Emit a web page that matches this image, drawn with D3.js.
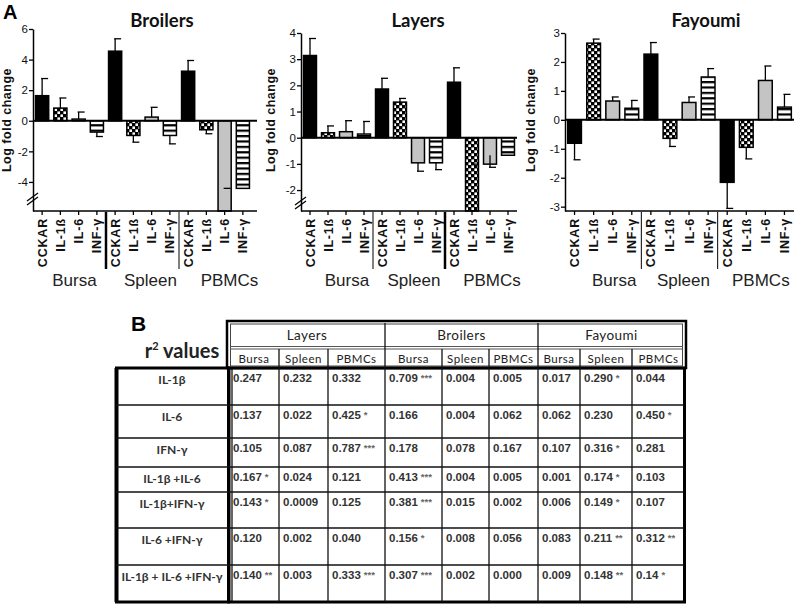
<!DOCTYPE html>
<html>
<head>
<meta charset="utf-8">
<script src="https://cdn.jsdelivr.net/npm/d3@7"></script>
<style>
body { margin: 0; background: #fff; }
svg { display: block; }
</style>
</head>
<body>
<svg id="fig" width="800" height="605"></svg>
<script>
// bar chart data (log fold change, mean and error)
var genes = ["CCKAR", "IL-1ß", "IL-6", "INF-γ"];
var tissues = ["Bursa", "Spleen", "PBMCs"];

var broilersMean = [1.64, 0.83, 0.11, -0.74, 4.55, -0.96, 0.24, -0.96, 3.24, -0.59, -5.9, -4.42];
var broilersErr  = [1.12, 0.66, 0.46, 0.29, 0.81, 0.44, 0.64, 0.55, 0.70, 0.26, 0, 0.61];
var layersMean   = [3.14, 0.19, 0.23, 0.14, 1.86, 1.36, -0.96, -0.96, 2.12, -2.8, -1.01, -0.67];
var layersErr    = [0.65, 0.26, 0.42, 0.48, 0.41, 0.14, 0.32, 0.26, 0.55, 0, 0.46, 1.32];
var fayoumiMean  = [-0.81, 2.65, 0.65, 0.40, 2.27, -0.64, 0.60, 1.48, -2.16, -0.95, 1.36, 0.44];
var fayoumiErr   = [0.57, 0.14, 0.14, 0.27, 0.40, 0.28, 0.19, 0.29, 0.90, 0.40, 0.50, 0.44];

var broilersTicks = [-4, -2, 0, 2, 4, 6];
var layersTicks   = [-2, -1, 0, 1, 2, 3, 4];
var fayoumiTicks  = [-3, -2, -1, 0, 1, 2, 3];

// table data (r2 values)
var breeds = ["Layers", "Broilers", "Fayoumi"];
var rowLabels = ["IL-1β", "IL-6", "IFN-γ", "IL-1β +IL-6", "IL-1β+IFN-γ", "IL-6 +IFN-γ", "IL-1β + IL-6 +IFN-γ"];
var r2 = [
  ["0.247", "0.232", "0.332", "0.709", "0.004", "0.005", "0.017", "0.290", "0.044"],
  ["0.137", "0.022", "0.425", "0.166", "0.004", "0.062", "0.062", "0.230", "0.450"],
  ["0.105", "0.087", "0.787", "0.178", "0.078", "0.167", "0.107", "0.316", "0.281"],
  ["0.167", "0.024", "0.121", "0.413", "0.004", "0.005", "0.001", "0.174", "0.103"],
  ["0.143", "0.0009", "0.125", "0.381", "0.015", "0.002", "0.006", "0.149", "0.107"],
  ["0.120", "0.002", "0.040", "0.156", "0.008", "0.056", "0.083", "0.211", "0.312"],
  ["0.140", "0.003", "0.333", "0.307", "0.002", "0.000", "0.009", "0.148", "0.14"]
];
var stars = [
  ["", "", "", "***", "", "", "", "*", ""],
  ["", "", "*", "", "", "", "", "", "*"],
  ["", "", "***", "", "", "", "", "*", ""],
  ["*", "", "", "***", "", "", "", "*", ""],
  ["*", "", "", "***", "", "", "", "*", ""],
  ["", "", "", "*", "", "", "", "**", "**"],
  ["**", "", "***", "***", "", "", "", "**", "*"]
];

var svg = d3.select("#fig");
var defs = svg.append("defs");

var chk = defs.append("pattern").attr("id", "chk")
  .attr("patternUnits", "userSpaceOnUse").attr("width", 6).attr("height", 6);
chk.append("rect").attr("width", 6).attr("height", 6).attr("fill", "#000");
chk.append("rect").attr("x", 0.4).attr("y", 0.4).attr("width", 2.6).attr("height", 2.6).attr("fill", "#fff");
chk.append("rect").attr("x", 3.4).attr("y", 3.4).attr("width", 2.6).attr("height", 2.6).attr("fill", "#fff");

var str = defs.append("pattern").attr("id", "str")
  .attr("patternUnits", "userSpaceOnUse").attr("width", 6).attr("height", 5.4);
str.append("rect").attr("width", 6).attr("height", 5.4).attr("fill", "#fff");
str.append("rect").attr("width", 6).attr("height", 2.2).attr("fill", "#000");

var fills = ["#000", "url(#chk)", "#c4c4c4", "url(#str)"];

var bottomY = 211;

var panels = [
  { title: "Broilers", mean: broilersMean, err: broilersErr, ticks: broilersTicks,
    x0: 33, x1: 252, xEnd: 257, dom: [-5.9, 6], top: 29, titleX: 162, ylabX: 11,
    seps: [2.5, 1], labOff: [5, 8, 14], brk: 197 },
  { title: "Layers", mean: layersMean, err: layersErr, ticks: layersTicks,
    x0: 301, x1: 517, xEnd: 517, dom: [-2.8, 4], top: 33, titleX: 418, ylabX: 275,
    seps: [1, 2.5], labOff: [10, 5, 11], brk: 201 },
  { title: "Fayoumi", mean: fayoumiMean, err: fayoumiErr, ticks: fayoumiTicks,
    x0: 565, x1: 794, xEnd: 794, dom: [-3.15, 3], top: 33, titleX: 706, ylabX: 535,
    seps: [1, 1], labOff: [11, 4, 5], brk: null }
];

panels.forEach(function(p) {
  var g = svg.append("g");
  var x = d3.scaleBand().domain(d3.range(12)).range([p.x0, p.x1])
    .paddingInner(0.28).paddingOuter(0.14);
  var y = d3.scaleLinear().domain(p.dom).range([bottomY, p.top]).clamp(true);

  // bars
  g.selectAll("rect.bar").data(p.mean).enter().append("rect")
    .attr("class", "bar")
    .attr("x", function(d, i) { return x(i); })
    .attr("width", x.bandwidth())
    .attr("y", function(d) { return d >= 0 ? y(d) : y(0); })
    .attr("height", function(d) { return Math.abs(y(d) - y(0)); })
    .attr("fill", function(d, i) { return fills[i % 4]; })
    .attr("stroke", "#000").attr("stroke-width", 1.5);

  // error bars
  var eb = g.selectAll("g.err").data(p.mean).enter().append("g")
    .filter(function(d, i) { return p.err[i] > 0; });
  eb.append("line")
    .attr("x1", function(d, i) { return x(i) + x.bandwidth() / 2; })
    .attr("x2", function(d, i) { return x(i) + x.bandwidth() / 2; })
    .attr("y1", function(d) { return y(d); })
    .attr("y2", function(d, i) { return y(d + Math.sign(d) * p.err[i]); })
    .attr("stroke", "#000").attr("stroke-width", 1.3);
  eb.append("line")
    .attr("x1", function(d, i) { return x(i) + x.bandwidth() / 2 - 1; })
    .attr("x2", function(d, i) { return x(i) + x.bandwidth() / 2 + 6; })
    .attr("y1", function(d, i) { return y(d + Math.sign(d) * p.err[i]); })
    .attr("y2", function(d, i) { return y(d + Math.sign(d) * p.err[i]); })
    .attr("stroke", "#000").attr("stroke-width", 1.3);

  // zero line
  g.append("line").attr("x1", p.x0).attr("x2", p.xEnd)
    .attr("y1", y(0)).attr("y2", y(0))
    .attr("stroke", "#000").attr("stroke-width", 2);

  // y axis
  var ya = g.append("g").attr("transform", "translate(" + p.x0 + ",0)")
    .call(d3.axisLeft(y).tickValues(p.ticks).tickSize(4).tickSizeOuter(0)
      .tickFormat(function(d) { return String(d); }));
  ya.select(".domain").attr("stroke-width", 1.5);
  ya.selectAll(".tick line").attr("stroke-width", 1.3);
  ya.selectAll("text").attr("font-family", "Liberation Sans, Arial, sans-serif")
    .attr("font-size", 11.5).attr("fill", "#111").attr("x", -5);

  // bottom axis
  var xa = g.append("g").attr("transform", "translate(0," + bottomY + ")")
    .call(d3.axisBottom(x).tickSize(4).tickSizeOuter(0)
      .tickFormat(function(i) { return genes[i % 4]; }));
  xa.select(".domain").remove();
  xa.append("line").attr("x1", p.x0).attr("x2", p.xEnd)
    .attr("stroke", "#000").attr("stroke-width", 1.5);
  xa.selectAll(".tick line").attr("stroke-width", 1.3);
  xa.selectAll("text")
    .attr("transform", "rotate(-90)")
    .attr("text-anchor", "end")
    .attr("x", -7).attr("y", 0).attr("dy", "0.36em")
    .attr("font-family", "Liberation Sans, Arial, sans-serif")
    .attr("font-weight", "bold").attr("font-size", 12.5)
    .attr("letter-spacing", 0.8).attr("fill", "#111");

  // axis break marks
  if (p.brk) {
    [0, 4].forEach(function(o) {
      g.append("line").attr("x1", p.x0 - 6).attr("x2", p.x0 + 5)
        .attr("y1", p.brk + 4 + o).attr("y2", p.brk - 4 + o)
        .attr("stroke", "#000").attr("stroke-width", 1.2);
    });
  }

  // group separators and labels
  [4, 8].forEach(function(k, j) {
    var sx = x.step() * k + p.x0;
    g.append("line").attr("x1", sx).attr("x2", sx)
      .attr("y1", bottomY + 1).attr("y2", 269)
      .attr("stroke", "#000").attr("stroke-width", p.seps[j]);
  });
  tissues.forEach(function(t, j) {
    g.append("text")
      .attr("x", p.x0 + x.step() * (4 * j + 2) + p.labOff[j])
      .attr("y", 286)
      .attr("text-anchor", "middle")
      .attr("font-family", "Liberation Sans, Arial, sans-serif")
      .attr("font-size", 17).attr("fill", "#222")
      .text(t);
  });

  // title and y label
  g.append("text").attr("x", p.titleX).attr("y", 27)
    .attr("text-anchor", "middle")
    .attr("font-family", "Lato, sans-serif").attr("font-weight", "bold")
    .attr("font-size", 18.5).attr("fill", "#111").text(p.title);
  g.append("text")
    .attr("transform", "translate(" + p.ylabX + ",120) rotate(-90)")
    .attr("text-anchor", "middle")
    .attr("font-family", "Liberation Sans, Arial, sans-serif")
    .attr("font-weight", "bold").attr("font-size", 12.5)
    .attr("letter-spacing", 0.5).attr("fill", "#111")
    .text("Log fold change");
});

svg.append("text").attr("x", 3).attr("y", 19)
  .attr("font-family", "Liberation Sans, Arial, sans-serif")
  .attr("font-weight", "bold").attr("font-size", 20).text("A");

// ---- panel B table ----
var colEdges = [229, 279, 328, 385, 442, 489, 538, 580, 632, 685];
var rowEdges = [368, 405, 438, 467, 492, 528, 565, 602];
var cx = d3.scaleLinear().domain(d3.range(10)).range(colEdges);
var ry = d3.scaleLinear().domain(d3.range(8)).range(rowEdges);
var t = svg.append("g");

svg.append("text").attr("x", 131).attr("y", 331)
  .attr("font-family", "Liberation Sans, Arial, sans-serif")
  .attr("font-weight", "bold").attr("font-size", 21).text("B");
var rt = svg.append("text").attr("x", 182).attr("y", 358)
  .attr("text-anchor", "middle")
  .attr("font-family", "Lato, sans-serif").attr("font-weight", "bold")
  .attr("font-size", 20).attr("fill", "#222");
rt.append("tspan").text("r");
rt.append("tspan").attr("font-size", 11).attr("dy", -8).text("2");
rt.append("tspan").attr("dy", 8).text(" values");

// frames
t.append("rect").attr("x", 227).attr("y", 321).attr("width", 459).attr("height", 47)
  .attr("fill", "none").attr("stroke", "#000").attr("stroke-width", 2.5);
t.append("rect").attr("x", 230.5).attr("y", 324).attr("width", 452).attr("height", 42)
  .attr("fill", "none").attr("stroke", "#444").attr("stroke-width", 1);
t.append("line").attr("x1", 230).attr("x2", 683).attr("y1", 346.5).attr("y2", 346.5)
  .attr("stroke", "#555").attr("stroke-width", 1.2);
t.append("line").attr("x1", 230).attr("x2", 683).attr("y1", 349).attr("y2", 349)
  .attr("stroke", "#555").attr("stroke-width", 1.2);
t.append("rect").attr("x", 116.5).attr("y", ry(0)).attr("width", 112).attr("height", ry(7) - ry(0))
  .attr("fill", "none").attr("stroke", "#000").attr("stroke-width", 3);
t.append("line").attr("x1", 116.5).attr("x2", 116.5).attr("y1", ry(0)).attr("y2", ry(7))
  .attr("stroke", "#000").attr("stroke-width", 4);
t.append("rect").attr("x", 229).attr("y", ry(0)).attr("width", 455.5).attr("height", ry(7) - ry(0))
  .attr("fill", "none").attr("stroke", "#000").attr("stroke-width", 3);
t.append("line").attr("x1", 232).attr("x2", 232).attr("y1", ry(0)).attr("y2", ry(7))
  .attr("stroke", "#000").attr("stroke-width", 1.2);

// grid lines
d3.range(1, 7).forEach(function(r) {
  t.append("line").attr("x1", 116).attr("x2", 684).attr("y1", ry(r)).attr("y2", ry(r))
    .attr("stroke", "#111").attr("stroke-width", 1.3);
});
d3.range(1, 9).forEach(function(c) {
  t.append("line").attr("x1", cx(c)).attr("x2", cx(c))
    .attr("y1", c % 3 === 0 ? 323 : 349).attr("y2", ry(7))
    .attr("stroke", "#111").attr("stroke-width", 1.3);
});

// headers
breeds.forEach(function(b, j) {
  t.append("text").attr("x", (cx(3 * j) + cx(3 * j + 3)) / 2).attr("y", 340)
    .attr("text-anchor", "middle")
    .attr("font-family", "Lato, sans-serif").attr("font-size", 13.5)
    .attr("letter-spacing", 0.4).attr("fill", "#222").text(b);
  tissues.forEach(function(s, k) {
    var c = 3 * j + k;
    t.append("text").attr("x", (cx(c) + cx(c + 1)) / 2).attr("y", 363)
      .attr("text-anchor", "middle")
      .attr("font-family", "Lato, sans-serif").attr("font-size", 11.5)
      .attr("letter-spacing", 0.5).attr("fill", "#222").text(s);
  });
});

// rows
rowLabels.forEach(function(lab, r) {
  t.append("text").attr("x", 172).attr("y", ry(r) + 16)
    .attr("text-anchor", "middle")
    .attr("font-family", "Lato, sans-serif").attr("font-weight", "bold")
    .attr("font-size", 12).attr("fill", "#333").text(lab);
  r2[r].forEach(function(v, c) {
    var tx = t.append("text").attr("x", cx(c) + 4).attr("y", ry(r) + 14)
      .attr("font-family", "Liberation Sans, Arial, sans-serif")
      .attr("font-weight", "bold").attr("font-size", 11.5).attr("fill", "#333");
    tx.append("tspan").text(v);
    if (stars[r][c]) {
      tx.append("tspan").attr("font-size", 9.5).attr("fill", "#666")
        .attr("dx", 3).attr("dy", -1).text(stars[r][c]);
    }
  });
});
</script>
</body>
</html>
